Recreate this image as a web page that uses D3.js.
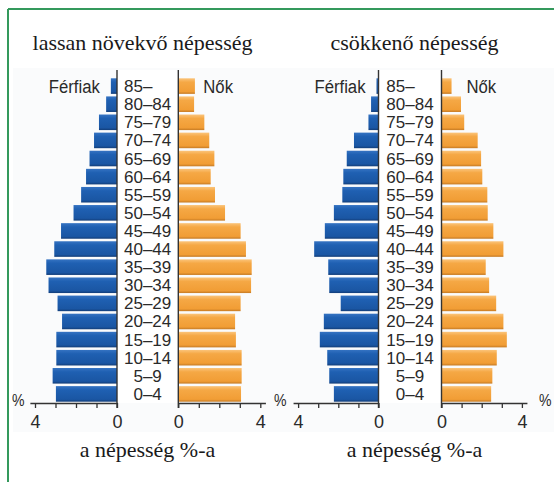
<!DOCTYPE html>
<html>
<head>
<meta charset="utf-8">
<script src="https://cdn.jsdelivr.net/npm/d3@7/dist/d3.min.js"></script>
<style>
  html, body { margin: 0; padding: 0; background: #ffffff; }
  svg { display: block; }
  .sans { font-family: "Liberation Sans", Arial, sans-serif; fill: #2a2a2a; }
  .serif { font-family: "Liberation Serif", "Times New Roman", serif; fill: #1a1a1a; }
</style>
</head>
<body>
<svg id="chart" width="554" height="482"></svg>
<script>
// Age groups, youngest first
const ages = ["0–4", "5–9", "10–14", "15–19", "20–24", "25–29", "30–34", "35–39", "40–44",
              "45–49", "50–54", "55–59", "60–64", "65–69", "70–74", "75–79", "80–84", "85–"];

// Share of the population (%) per age group
const slowMale     = [2.98, 3.14, 2.96, 2.96, 2.68, 2.90, 3.34, 3.45, 3.06, 2.73, 2.12, 1.75, 1.51, 1.34, 1.12, 0.88, 0.53, 0.30];
const slowFemale   = [3.06, 3.09, 3.09, 2.81, 2.77, 3.04, 3.55, 3.58, 3.30, 3.04, 2.28, 1.79, 1.58, 1.76, 1.51, 1.27, 0.77, 0.81];
const declineMale  = [2.22, 2.45, 2.55, 2.92, 2.72, 1.88, 2.45, 2.50, 3.20, 2.67, 2.22, 1.80, 1.75, 1.58, 1.22, 0.50, 0.37, 0.10];
const declineFemale= [2.47, 2.53, 2.75, 3.25, 3.08, 2.72, 2.37, 2.20, 3.08, 2.58, 2.30, 2.28, 2.03, 1.97, 1.80, 1.13, 0.97, 0.50];

// Axis ticks and their labels
const tickValues = [0, 1, 2, 3, 4];
const tickLabels = { 0: "0", 4: "4" };

const titles = ["lassan növekvő népesség", "csökkenő népesség"];
const xAxisTitle = "a népesség %-a";
const maleLabel = "Férfiak";
const femaleLabel = "Nők";

const svg = d3.select("#chart");

// Gradients give the bars their slightly rounded, printed look
const defs = svg.append("defs");
const blue = defs.append("linearGradient").attr("id", "gBlue").attr("x1", 0).attr("y1", 0).attr("x2", 0).attr("y2", 1);
blue.append("stop").attr("offset", "0%").attr("stop-color", "#3573c2");
blue.append("stop").attr("offset", "25%").attr("stop-color", "#1f60b2");
blue.append("stop").attr("offset", "85%").attr("stop-color", "#1a56a3");
blue.append("stop").attr("offset", "100%").attr("stop-color", "#123d78");
const orange = defs.append("linearGradient").attr("id", "gOrange").attr("x1", 0).attr("y1", 0).attr("x2", 0).attr("y2", 1);
orange.append("stop").attr("offset", "0%").attr("stop-color", "#fbc47a");
orange.append("stop").attr("offset", "25%").attr("stop-color", "#f5a845");
orange.append("stop").attr("offset", "85%").attr("stop-color", "#f19d35");
orange.append("stop").attr("offset", "100%").attr("stop-color", "#c57a24");

// Frame
svg.append("rect").attr("x", 13).attr("y", 68).attr("width", 541).attr("height", 364).attr("fill", "#fafbfc");
svg.append("line").attr("x1", 8).attr("y1", 9).attr("x2", 554).attr("y2", 9)
  .attr("stroke", "#34995c").attr("stroke-width", 2);
svg.append("line").attr("x1", 8).attr("y1", 9).attr("x2", 8).attr("y2", 482)
  .attr("stroke", "#34995c").attr("stroke-width", 2);

const y = d3.scaleBand().domain(ages.slice().reverse()).range([78.3, 401.7]).paddingInner(0.14).paddingOuter(0);
const axisY = 403;
const topY = 70;
const narrow = 0.88;   // condensed look for the series labels

// Places condensed text at (x, y) with the given anchor
function condensed(sel, x, yy, anchor) {
  return sel.attr("x", 0).attr("y", 0).attr("text-anchor", anchor)
    .attr("transform", `translate(${x},${yy}) scale(${narrow},1)`);
}

function pyramid(opts) {
  const { male, female, maleZero, femaleZero, pxPerPct, title, titleX, footX, pctLeftX, pctRightX } = opts;
  const g = svg.append("g");
  const extent = 4.25;
  const xm = d3.scaleLinear().domain([0, extent]).range([maleZero, maleZero - extent * pxPerPct]);
  const xf = d3.scaleLinear().domain([0, extent]).range([femaleZero, femaleZero + extent * pxPerPct]);

  // label column
  g.append("rect").attr("x", maleZero).attr("y", topY).attr("width", femaleZero - maleZero)
    .attr("height", axisY - topY).attr("fill", "#ffffff");

  // bars
  g.append("g").selectAll("rect").data(ages).join("rect")
    .attr("x", (d, i) => xm(male[i])).attr("y", d => y(d))
    .attr("width", (d, i) => xm(0) - xm(male[i])).attr("height", y.bandwidth())
    .attr("fill", "url(#gBlue)");
  g.append("g").selectAll("rect").data(ages).join("rect")
    .attr("x", xf(0)).attr("y", d => y(d))
    .attr("width", (d, i) => xf(female[i]) - xf(0)).attr("height", y.bandwidth())
    .attr("fill", "url(#gOrange)");

  // vertical zero lines
  [maleZero, femaleZero].forEach(x => {
    g.append("line").attr("x1", x).attr("x2", x).attr("y1", topY).attr("y2", axisY + 5)
      .attr("stroke", "#333").attr("stroke-width", 1.4);
  });

  // age labels
  const lab = g.append("g").attr("class", "sans").style("font-size", "17px");
  const cx = (maleZero + femaleZero) / 2;
  const texts = lab.selectAll("text").data(ages).join("text")
    .attr("x", cx).attr("y", d => y(d) + y.bandwidth() / 2 + 6)
    .attr("text-anchor", "middle").text(d => d);
  const ref = texts.filter(d => d === "80–84").node();
  const startX = cx - ref.getComputedTextLength() / 2;
  texts.filter(d => d === "85–").attr("text-anchor", "start").attr("x", startX);

  // x axes
  const fmt = d => tickLabels[d] || "";
  const axM = d3.axisBottom(xm).tickValues(tickValues).tickFormat(fmt).tickSize(5).tickSizeOuter(0).tickPadding(7);
  const axF = d3.axisBottom(xf).tickValues(tickValues).tickFormat(fmt).tickSize(5).tickSizeOuter(0).tickPadding(7);
  [axM, axF].forEach(ax => {
    const a = g.append("g").attr("transform", `translate(0,${axisY})`).call(ax);
    a.select(".domain").attr("stroke", "#333").attr("stroke-width", 1.4);
    a.selectAll(".tick line").attr("stroke", "#333").attr("stroke-width", 1.3);
    a.selectAll(".tick text").attr("fill", "#2a2a2a")
      .style("font-family", "Liberation Sans, Arial, sans-serif").style("font-size", "18px");
  });

  // % marks
  const pct = g.append("g").attr("class", "sans").style("font-size", "16px");
  if (pctLeftX != null) condensed(pct.append("text").text("%"), pctLeftX, axisY + 3, "start");
  if (pctRightX != null) condensed(pct.append("text").text("%"), pctRightX, axisY + 3, "start");

  // series labels
  condensed(g.append("text").attr("class", "sans").style("font-size", "19px").text(maleLabel),
    xm(male[ages.length - 1]) - 11, 93, "end");
  condensed(g.append("text").attr("class", "sans").style("font-size", "19px").text(femaleLabel),
    femaleZero + 25, 93, "start");

  // titles
  g.append("text").attr("class", "serif").style("font-size", "22px")
    .attr("x", titleX).attr("y", 50).attr("text-anchor", "middle").text(title);
  g.append("text").attr("class", "serif").style("font-size", "22px")
    .attr("x", footX).attr("y", 457).attr("text-anchor", "middle").text(xAxisTitle);
}

pyramid({ male: slowMale, female: slowFemale, maleZero: 117, femaleZero: 178.3, pxPerPct: 20.5,
  title: titles[0], titleX: 142.5, footX: 147.5, pctLeftX: 12, pctRightX: null });
pyramid({ male: declineMale, female: declineFemale, maleZero: 378.5, femaleZero: 441.5, pxPerPct: 20.1,
  title: titles[1], titleX: 414.5, footX: 414.5, pctLeftX: 274, pctRightX: 539 });
</script>
</body>
</html>
